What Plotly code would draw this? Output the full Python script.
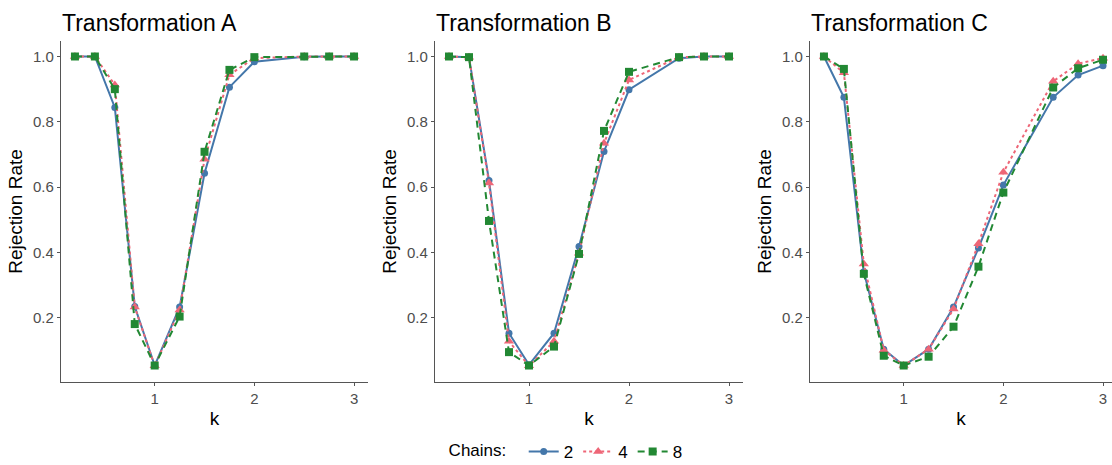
import plotly.graph_objects as go

k_values = [0.2, 0.4, 0.6, 0.8, 1.0, 1.25, 1.5, 1.75, 2.0, 2.5, 2.75, 3.0]

panel_titles = ["Transformation A", "Transformation B", "Transformation C"]
chain_labels = ["2", "4", "8"]

# Transformation A
A_2 = [1.0, 1.0, 0.844, 0.234, 0.053, 0.232, 0.642, 0.906, 0.984, 0.999, 1.0, 1.0]
A_4 = [1.0, 1.0, 0.913, 0.232, 0.052, 0.223, 0.685, 0.944, 0.995, 1.0, 1.0, 1.0]
A_8 = [1.0, 1.0, 0.900, 0.180, 0.053, 0.203, 0.708, 0.959, 0.998, 1.0, 1.0, 1.0]

# Transformation B
B_2 = [1.0, 0.998, 0.620, 0.152, 0.055, 0.152, 0.418, 0.709, 0.898, 0.995, 1.0, 1.0]
B_4 = [1.0, 0.998, 0.612, 0.127, 0.052, 0.127, 0.397, 0.734, 0.928, 0.998, 1.0, 1.0]
B_8 = [1.0, 0.998, 0.496, 0.094, 0.053, 0.111, 0.395, 0.772, 0.953, 0.998, 1.0, 1.0]

# Transformation C
C_2 = [1.0, 0.875, 0.340, 0.103, 0.053, 0.103, 0.232, 0.413, 0.606, 0.875, 0.943, 0.972]
C_4 = [1.0, 0.950, 0.364, 0.100, 0.053, 0.103, 0.226, 0.426, 0.645, 0.924, 0.978, 0.995]
C_8 = [1.0, 0.962, 0.334, 0.083, 0.053, 0.080, 0.172, 0.356, 0.583, 0.905, 0.964, 0.990]

panels = [[A_2, A_4, A_8], [B_2, B_4, B_8], [C_2, C_4, C_8]]

y_ticks = [0.2, 0.4, 0.6, 0.8, 1.0]
x_ticks = [1, 2, 3]

colors = ["#4477AA", "#EE6677", "#228833"]
dashes = ["solid", "3px,3px", "7px,5px"]
symbols = ["circle", "triangle-up", "square"]
msizes = [7, 9, 8]

W, H = 1112, 465
FONT = "Liberation Sans, Arial, sans-serif"

fig = go.Figure()

x_domains = [(61, 368), (435, 743), (810, 1112)]
x_ranges = [[0.06, 3.14], [0.06, 3.14], [0.06, 3.09]]

for p, series in enumerate(panels):
    ax = "" if p == 0 else str(p + 1)
    for s, vals in enumerate(series):
        fig.add_trace(go.Scatter(
            x=k_values, y=vals, mode="lines+markers",
            name=chain_labels[s], legendgroup=chain_labels[s],
            showlegend=(p == 0),
            line=dict(color=colors[s], width=2, dash=dashes[s]),
            marker=dict(color=colors[s], symbol=symbols[s], size=msizes[s]),
            xaxis="x" + ax, yaxis="y" + ax,
            cliponaxis=False,
        ))

axis_common = dict(
    showline=True, linecolor="#555555", linewidth=1.2,
    ticks="outside", ticklen=3, tickcolor="#555555", tickwidth=1,
    showgrid=False, zeroline=False,
    tickfont=dict(family=FONT, size=15, color="#4D4D4D"),
)

layout = dict(
    width=W, height=H,
    margin=dict(l=0, r=0, t=41, b=83),
    plot_bgcolor="white", paper_bgcolor="white",
    font=dict(family=FONT, color="black"),
    showlegend=True,
    legend=dict(
        orientation="h", xref="container", yref="container",
        x=0.51, xanchor="center", y=0.028, yanchor="middle",
        title=dict(text="Chains:  ", font=dict(size=17, family=FONT)),
        font=dict(size=17, family=FONT),
        tracegroupgap=0,
    ),
    annotations=[],
)

for p in range(3):
    ax = "" if p == 0 else str(p + 1)
    d0, d1 = x_domains[p]
    layout["xaxis" + ax] = dict(
        axis_common, domain=[d0 / W, d1 / W], range=x_ranges[p],
        tickvals=x_ticks, ticktext=[str(t) for t in x_ticks],
        anchor="y" + ax,
        title=dict(text="k", font=dict(family=FONT, size=19), standoff=5),
    )
    layout["yaxis" + ax] = dict(
        axis_common, range=[0.0025, 1.0475], anchor="x" + ax,
        tickvals=y_ticks, ticktext=["%.1f" % t for t in y_ticks],
        title=dict(text="Rejection Rate", font=dict(family=FONT, size=19), standoff=5),
    )
    layout["annotations"].append(dict(
        text=panel_titles[p], xref="paper", yref="paper",
        x=(d0 - 1) / W, y=1.0, xanchor="left", yanchor="bottom", yshift=3,
        showarrow=False, font=dict(family=FONT, size=23, color="black"),
    ))

fig.update_layout(**layout)
fig.write_html(
    "out.html",
    config={"displayModeBar": False},
    post_script="document.body.style.margin='0';document.body.style.overflow='hidden';",
)
